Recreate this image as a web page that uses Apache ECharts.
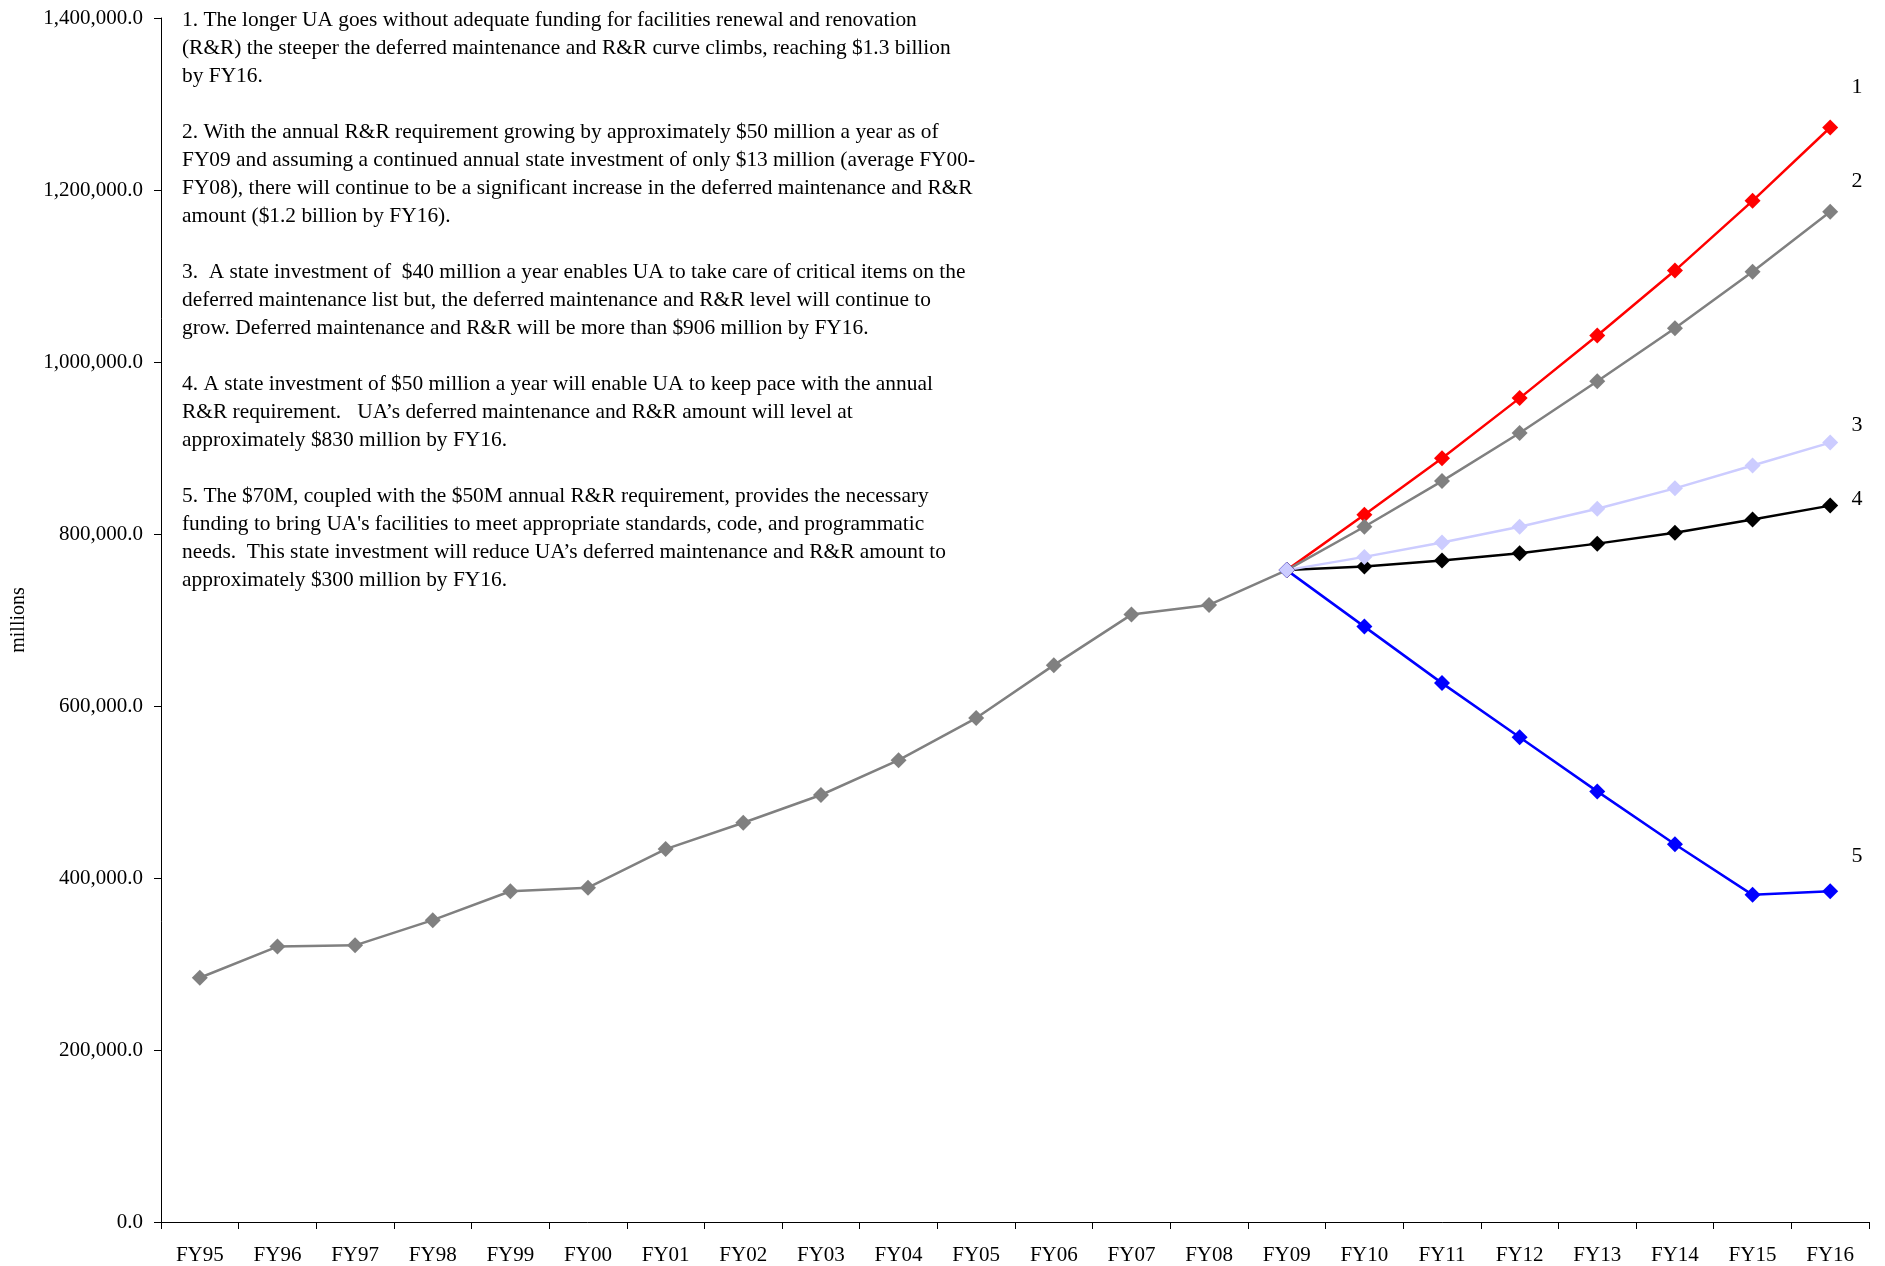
<!DOCTYPE html>
<html>
<head>
<meta charset="utf-8">
<script src="https://cdn.jsdelivr.net/npm/echarts@6/dist/echarts.min.js"></script>
<style>html,body{margin:0;padding:0;background:#fff;}#c{width:1885px;height:1266px;}</style>
</head>
<body>
<div id="c"></div>
<script>
const categories = ['FY95','FY96','FY97','FY98','FY99','FY00','FY01','FY02','FY03','FY04','FY05','FY06','FY07','FY08','FY09','FY10','FY11','FY12','FY13','FY14','FY15','FY16'];
const historical = [284000,320300,321700,351000,384600,388800,433600,464300,496500,537000,586000,647500,706300,717500,758000,null,null,null,null,null,null,null];
const scenario1 = [null,null,null,null,null,null,null,null,null,null,null,null,null,null,758000,822400,888100,958000,1030800,1106300,1187400,1272700];
const scenario2 = [null,null,null,null,null,null,null,null,null,null,null,null,null,null,758000,808400,861500,917500,977600,1039200,1104900,1174800];
const scenario3 = [null,null,null,null,null,null,null,null,null,null,null,null,null,null,758000,773400,790200,808400,829400,853100,879700,906300];
const scenario4 = [null,null,null,null,null,null,null,null,null,null,null,null,null,null,758000,762200,769200,777600,788800,801400,816800,833000];
const scenario5 = [null,null,null,null,null,null,null,null,null,null,null,null,null,null,758000,692300,626600,563600,500700,439200,380400,384600];
const yTicks = [0,200000,400000,600000,800000,1000000,1200000,1400000];
const notes = [
  '1. The longer UA goes without adequate funding for facilities renewal and renovation',
  '(R&R) the steeper the deferred maintenance and R&R curve climbs, reaching $1.3 billion',
  'by FY16.',
  '',
  '2. With the annual R&R requirement growing by approximately $50 million a year as of',
  'FY09 and assuming a continued annual state investment of only $13 million (average FY00-',
  'FY08), there will continue to be a significant increase in the deferred maintenance and R&R',
  'amount ($1.2 billion by FY16).',
  '',
  '3.  A state investment of  $40 million a year enables UA to take care of critical items on the',
  'deferred maintenance list but, the deferred maintenance and R&R level will continue to',
  'grow. Deferred maintenance and R&R will be more than $906 million by FY16.',
  '',
  '4. A state investment of $50 million a year will enable UA to keep pace with the annual',
  'R&R requirement.   UA\u2019s deferred maintenance and R&R amount will level at',
  'approximately $830 million by FY16.',
  '',
  '5. The $70M, coupled with the $50M annual R&R requirement, provides the necessary',
  'funding to bring UA\'s facilities to meet appropriate standards, code, and programmatic',
  'needs.  This state investment will reduce UA\u2019s deferred maintenance and R&R amount to',
  'approximately $300 million by FY16.'
];
const endLabels = ['1','2','3','4','5'];

const FONT = "'Liberation Serif','Times New Roman',serif";
const chart = echarts.init(document.getElementById('c'));

function fmt(v){
  return Number(v).toLocaleString('en-US',{minimumFractionDigits:1,maximumFractionDigits:1});
}
function lineSeries(name, data, color){
  return {
    name: name, type: 'line', data: data, connectNulls: false,
    symbol: 'diamond', symbolSize: 16, showAllSymbol: true,
    lineStyle: {color: color, width: 2.5},
    itemStyle: {color: color},
    emphasis: {disabled: true}, animation: false
  };
}
const labelPos = [[1857,87],[1857,181],[1857,425],[1857,499],[1857,856]];

chart.setOption({
  backgroundColor: '#fff',
  animation: false,
  grid: {left: 161, right: 16, top: 18, bottom: 44, containLabel: false, outerBoundsMode: 'none'},
  xAxis: {
    type: 'category', data: categories, boundaryGap: true,
    axisLine: {lineStyle: {color: '#000', width: 1}},
    axisTick: {show: true, length: 7, lineStyle: {color: '#000'}, alignWithLabel: false},
    axisLabel: {color: '#000', fontFamily: FONT, fontSize: 21, margin: 23, interval: 0},
    splitLine: {show: false}
  },
  yAxis: {
    type: 'value', min: 0, max: 1400000, interval: 200000,
    name: 'millions', nameLocation: 'middle', nameGap: 132, nameRotate: 90,
    nameTextStyle: {color: '#000', fontFamily: FONT, fontSize: 20},
    axisLine: {show: true, lineStyle: {color: '#000', width: 1}},
    axisTick: {show: true, length: 7, lineStyle: {color: '#000'}},
    axisLabel: {color: '#000', fontFamily: FONT, fontSize: 21, margin: 18, formatter: fmt},
    splitLine: {show: false}
  },
  graphic: [
    {
      type: 'text', left: 182, top: 6,
      style: {text: notes.join('\n'), font: '21.4px ' + FONT, fill: '#000', lineHeight: 28}
    }
  ].concat(endLabels.map((t,i)=>({
    type: 'text', x: labelPos[i][0], y: labelPos[i][1],
    style: {text: t, font: '22px ' + FONT, fill: '#000', align: 'center', verticalAlign: 'middle'}
  }))),
  series: [
    lineSeries('Historical', historical, '#808080'),
    lineSeries('1', scenario1, '#FF0000'),
    lineSeries('2', scenario2, '#808080'),
    lineSeries('4', scenario4, '#000000'),
    lineSeries('5', scenario5, '#0000FF'),
    lineSeries('3', scenario3, '#CCCCFF')
  ]
});
</script>
</body>
</html>
